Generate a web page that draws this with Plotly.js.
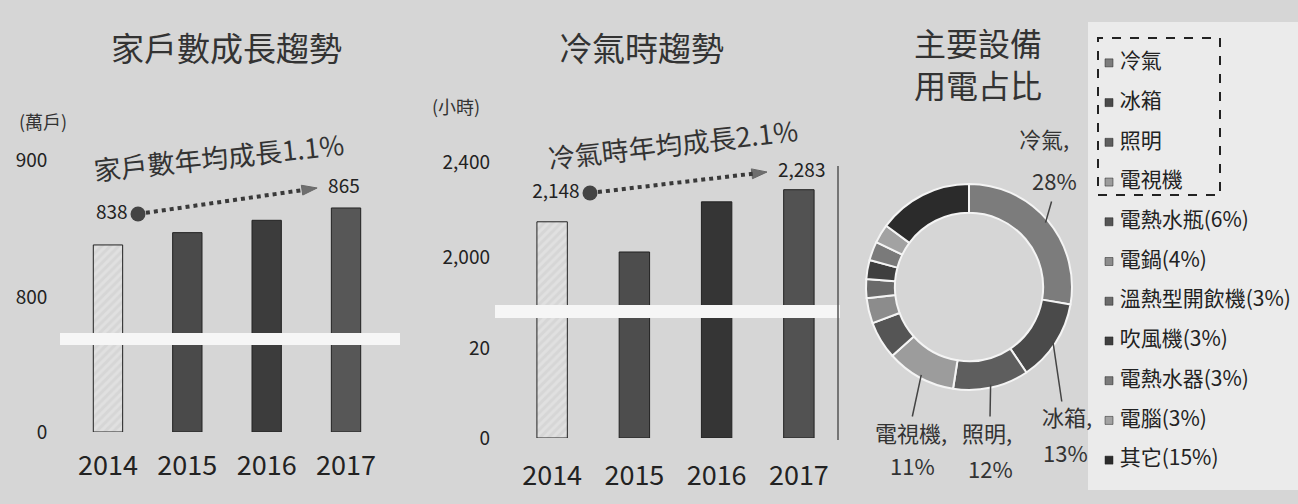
<!DOCTYPE html>
<html>
<head>
<meta charset="utf-8">
<script src="https://cdn.plot.ly/plotly-3.0.1.min.js"></script>
<style>html,body{margin:0;padding:0;background:#d6d6d6;}#chart{width:1298px;height:504px;}</style>
</head>
<body>
<div id="chart"></div>
<script>
// ---------------- data ----------------
const years = ['2014', '2015', '2016', '2017'];
const households = [838, 847, 856, 865];          // 萬戶
const acHours = [2148, 2021, 2232, 2283];         // 小時
const householdTicks = [0, 800, 900];
const acTicks = [0, 20, 2000, 2400];
const householdGrowth = '1.1%';
const acGrowth = '2.1%';
const applianceNames = ['冷氣', '冰箱', '照明', '電視機', '電熱水瓶', '電鍋', '溫熱型開飲機', '吹風機', '電熱水器', '電腦', '其它'];
const applianceShares = [28, 13, 12, 11, 6, 4, 3, 3, 3, 3, 15];

// ---------------- styles ----------------
const FONT = '"Noto Sans CJK TC", "Noto Sans", sans-serif';
const W = 1298, H = 504;
const px = v => v / W;
const py = v => 1 - v / H;
const barColorsHome = ['#e0e0e0', '#4a4a4a', '#3c3c3c', '#575757'];
const barColorsAc = ['#e0e0e0', '#4d4d4d', '#353535', '#525252'];
const barPattern = ['/', '', '', ''];
const sliceColors = ['#7c7c7c', '#4a4a4a', '#5e5e5e', '#9c9c9c', '#555555', '#8c8c8c', '#6a6a6a', '#3f3f3f', '#7a7a7a', '#a2a2a2', '#2b2b2b'];
const labeledCount = 4;

function barTrace(x, y, xa, ya, colors) {
  return {
    type: 'bar', x: x, y: y, xaxis: xa, yaxis: ya, width: 0.37,
    marker: {color: colors, line: {color: '#222', width: 1},
      pattern: {shape: barPattern, fgcolor: '#222', size: 6, solidity: 0.5}},
    showlegend: false, hoverinfo: 'skip'
  };
}
function trendTraces(x, y, xa, ya, fmt) {
  return [{
    type: 'scatter', mode: 'lines+markers+text', xaxis: xa, yaxis: ya,
    x: x, y: y, text: y.map(fmt), textposition: ['middle left', 'middle right'],
    textfont: {family: FONT, size: 19, color: '#222'}, cliponaxis: false,
    line: {color: '#3a3a3a', width: 4, dash: 'dot'},
    marker: {symbol: ['circle', 'arrow'], size: [15, 16], color: '#444', angleref: 'previous'},
    showlegend: false, hoverinfo: 'skip'
  }, {
    type: 'scatter', mode: 'markers', xaxis: xa, yaxis: ya, cliponaxis: false,
    x: x.slice(0, 1), y: y.slice(0, 1),
    marker: {symbol: 'circle', size: 15, color: '#444'},
    showlegend: false, hoverinfo: 'skip'
  }];
}
const fmtComma = v => v.toLocaleString('en-US');

let traces = [];
// household panel
traces.push(barTrace(years, households, 'x', 'y', barColorsHome));
traces.push(barTrace(years, households, 'x', 'y2', barColorsHome));
traces = traces.concat(trendTraces([years[0], years[years.length - 1]], [households[0], households[households.length - 1]], 'x7', 'y7', v => String(v)));
// AC panel
traces.push(barTrace(years, acHours, 'x3', 'y3', barColorsAc));
traces.push(barTrace(years, acHours, 'x3', 'y4', barColorsAc));
traces = traces.concat(trendTraces([years[0], years[years.length - 1]], [acHours[0], acHours[acHours.length - 1]], 'x8', 'y8', fmtComma));
// donut
const pieCx = 969, pieCy = 287, pieR = 103;
traces.push({
  type: 'pie', labels: applianceNames, values: applianceShares, hole: 0.72,
  sort: false, direction: 'clockwise', rotation: 0,
  marker: {colors: sliceColors, line: {color: '#f4f4f4', width: 2}},
  textinfo: 'none', showlegend: false, hoverinfo: 'skip',
  domain: {x: [px(pieCx - pieR), px(pieCx + pieR)], y: [py(pieCy + pieR), py(pieCy - pieR)]}
});
// custom legend
const legendText = applianceNames.map((n, i) => i < labeledCount ? ' ' + n : ' ' + n + '(' + applianceShares[i] + '%)');
traces.push({
  type: 'scatter', mode: 'markers+text', xaxis: 'x5', yaxis: 'y5',
  x: applianceNames.map(() => 0), y: applianceNames.map((n, i) => i),
  text: legendText, textposition: 'middle right', cliponaxis: false,
  textfont: {family: FONT, size: 21, color: '#222'},
  marker: {symbol: 'square', size: 8, color: sliceColors, line: {color: '#222', width: 0.5}},
  showlegend: false, hoverinfo: 'skip'
});

const hidden = {visible: false, fixedrange: true};
const tickFont = {family: FONT, size: 19, color: '#222'};
const yBase = {showgrid: false, zeroline: false, showline: false, ticks: '', tickfont: tickFont, ticklabelstandoff: 20, tickmode: 'array', tickformat: ',d'};
const xBase = {type: 'category', categoryorder: 'array', categoryarray: years, showgrid: false, zeroline: false, showline: false, ticks: '', tickfont: {family: FONT, size: 27, color: '#222'}, range: [-0.5, 3.5]};
const catOverlay = {type: 'category', categoryorder: 'array', categoryarray: years};

// annotations
const ann = [];
function label(text, x, y, size, extra) {
  ann.push(Object.assign({text: text, x: px(x), y: py(y), xref: 'paper', yref: 'paper', showarrow: false,
    font: {family: FONT, size: size, color: '#333'}, xanchor: 'center', yanchor: 'middle'}, extra || {}));
}
label('家戶數成長趨勢', 226, 47, 33);
label('冷氣時趨勢', 641, 47, 33);
label('主要設備<br>用電占比', 978, 63, 32);
label('(萬戶)', 43, 121, 18);
label('(小時)', 456, 106, 18);
label('家戶數年均成長' + householdGrowth, 218, 156, 27, {textangle: -6});
label('冷氣時年均成長' + acGrowth, 672, 143, 27, {textangle: -6.5});

// donut labels with leader lines pointing at slice mid-angles
const total = applianceShares.reduce((a, b) => a + b, 0);
const labelPos = [
  {name: [1044, 138], pct: [1054, 180], tail: [1052, 200]},
  {name: [1067, 416], pct: [1065, 452], tail: [1062, 403]},
  {name: [987, 432], pct: [990, 468], tail: [990, 418]},
  {name: [911, 432], pct: [912, 465], tail: [912, 418]}
];
let cum = 0;
applianceShares.forEach((s, i) => {
  const mid = (cum + s / 2) / total * 2 * Math.PI;
  cum += s;
  if (i >= labeledCount) return;
  const hx = pieCx + (pieR - 3) * Math.sin(mid), hy = pieCy - (pieR - 3) * Math.cos(mid);
  const p = labelPos[i];
  label(applianceNames[i] + ',', p.name[0], p.name[1], 22);
  label(applianceShares[i] + '%', p.pct[0], p.pct[1], 22);
  ann.push({text: '', x: px(hx), y: py(hy), xref: 'paper', yref: 'paper', showarrow: true,
    ax: p.tail[0] - hx, ay: p.tail[1] - hy, arrowhead: 0, arrowwidth: 1.5, arrowcolor: '#444', standoff: 0});
});

const shapes = [
  // light area behind legend
  {type: 'rect', xref: 'paper', yref: 'paper', x0: px(1088), x1: 1, y0: py(490), y1: py(22), fillcolor: '#ebebeb', line: {width: 0}, layer: 'below'},
  // axis-break bands
  {type: 'rect', xref: 'paper', yref: 'paper', x0: px(60), x1: px(400), y0: py(345), y1: py(333), fillcolor: '#f6f6f6', line: {width: 0}, layer: 'below'},
  {type: 'rect', xref: 'paper', yref: 'paper', x0: px(495), x1: px(840), y0: py(318), y1: py(305), fillcolor: '#f6f6f6', line: {width: 0}, layer: 'below'},
  // right frame line of AC panel
  {type: 'line', xref: 'paper', yref: 'paper', x0: px(838), x1: px(838), y0: py(440), y1: py(166), line: {color: '#555', width: 1.5}},
  // dashed box around labelled legend entries
  {type: 'rect', xref: 'paper', yref: 'paper', x0: px(1098), x1: px(1220), y0: py(195), y1: py(38), line: {color: '#222', width: 2, dash: 'dash'}}
];

const layout = {
  width: W, height: H, margin: {l: 0, r: 0, t: 0, b: 0},
  paper_bgcolor: '#d6d6d6', plot_bgcolor: 'rgba(0,0,0,0)',
  font: {family: FONT, color: '#222'}, showlegend: false, bargap: 0.5,
  // household panel
  xaxis: Object.assign({}, xBase, {domain: [px(68.3), px(385.7)], anchor: 'y', ticklabelstandoff: 15}),
  yaxis: Object.assign({}, yBase, {domain: [py(432), py(345)], range: [0, 30], tickvals: householdTicks.filter(v => v < 100), anchor: 'x'}),
  yaxis2: Object.assign({}, yBase, {domain: [py(333), py(148)], range: [773.7, 908.8], tickvals: householdTicks.filter(v => v >= 100), anchor: 'x'}),
  xaxis7: Object.assign({}, hidden, catOverlay, {overlaying: 'x', range: [-1.168, 4.149], anchor: 'y7'}),
  yaxis7: Object.assign({}, hidden, {overlaying: 'y2', range: [714.4, 906.5], anchor: 'x7'}),
  // AC panel
  xaxis3: Object.assign({}, xBase, {domain: [px(511), px(840)], anchor: 'y3', ticklabelstandoff: 19}),
  yaxis3: Object.assign({}, yBase, {domain: [py(438), py(318)], range: [0, 26.7], tickvals: acTicks.filter(v => v < 100), anchor: 'x3'}),
  yaxis4: Object.assign({}, yBase, {domain: [py(305), py(150)], range: [1798, 2450], tickvals: acTicks.filter(v => v >= 100), anchor: 'x3'}),
  xaxis8: Object.assign({}, hidden, catOverlay, {overlaying: 'x3', range: [-1.339, 4.237], anchor: 'y8'}),
  yaxis8: Object.assign({}, hidden, {overlaying: 'y4', range: [1428.3, 2424.4], anchor: 'x8'}),
  // legend axes
  xaxis5: Object.assign({}, hidden, {domain: [px(1097), 1], range: [-1, 15.75], anchor: 'y5'}),
  yaxis5: Object.assign({}, hidden, {domain: [py(480), py(43)], range: [10.5, -0.5], anchor: 'x5'}),
  annotations: ann, shapes: shapes
};

Plotly.newPlot('chart', traces, layout, {displayModeBar: false, staticPlot: true});
</script>
</body>
</html>
